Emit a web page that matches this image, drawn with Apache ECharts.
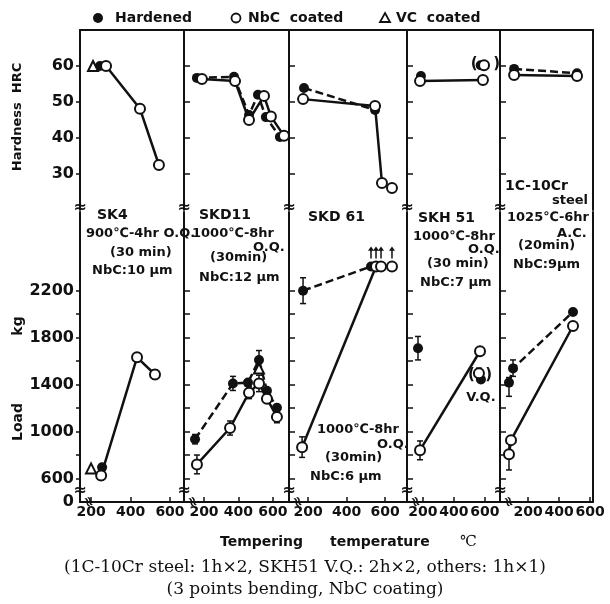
<!DOCTYPE html>
<html>
<head>
<meta charset="utf-8">
<script src="https://cdn.jsdelivr.net/npm/echarts@6/dist/echarts.min.js"></script>
<style>
  html, body { margin: 0; background: #fff; }
  #chart { width: 610px; height: 604px; }
</style>
</head>
<body>
<div id="chart"></div>
<script>
// ---- data ----
var panelNames = ['SK4', 'SKD11', 'SKD61', 'SKH51', '1C-10Cr'];
var hardnessTicks = [30, 40, 50, 60];
var loadLabels = [400, 600, 1000, 1400, 1800, 2200];   // 400 is shown as "0" (broken axis)
var loadTicks = [600, 800, 1000, 1200, 1400, 1600, 1800, 2000, 2200];
var tempTicks = [200, 400, 600];

// hardness HRC, [temp, HRC] per steel
var hardenedHRC = [
  [[245, 60]],
  [[159, 56.7], [374, 57], [461, 46.4], [513, 52], [559, 45.8], [640, 40.3]],
  [[179, 53.9], [548, 47.8]],
  [[187, 57.2]],
  [[110, 59.2], [516, 58]]
];
var nbcHRC = [
  [[276, 60], [448, 48.1], [544, 32.5]],
  [[188, 56.4], [380, 55.8], [461, 45], [548, 51.7], [588, 46], [664, 40.6]],
  [[174, 50.8], [548, 48.9], [584, 27.5], [636, 26.1]],
  [[181, 55.8], [587, 56.1]],
  [[110, 57.5], [516, 57.2]]
];
var vcHRC = [[[210, 60]], [], [], [], []];
var vqHardenedHRC = [[], [], [], [[572, 60.2]], []];
var vqNbcHRC = [[], [], [], [[594, 60.2]], []];

// bending load kg, [temp, kg]
var hardenedLoad = [
  [[256, 695]],
  [[148, 935], [368, 1409], [455, 1417], [519, 1610], [565, 1348], [623, 1202]],
  [[174, 2200], [527, 2406]],
  [[168, 1710]],
  [[77, 1417], [103, 1538], [490, 2019]]
];
var nbcLoad = [
  [[251, 626], [433, 1632], [524, 1486]],
  [[159, 720], [351, 1030], [461, 1331], [519, 1409], [565, 1280], [623, 1125]],
  [[169, 867], [553, 2406]],
  [[181, 841], [568, 1684]],
  [[77, 806], [90, 927], [490, 1899]]
];
var nbcLoadExtra = [[], [], [[579, 2406], [636, 2406]], [], []];
var vcLoad = [[[200, 686]], [[519, 1537]], [], [], []];
var vqHardenedLoad = [[], [], [], [[574, 1443]], []];
var vqNbcLoad = [[], [], [], [[561, 1497]], []];
var unbrokenLoad = [[], [], [[527, 2406], [553, 2406], [579, 2406], [636, 2406]], [], []];
// error bars [temp, low, high]
var loadErrors = [
  [[251, 590, 665], [256, 665, 725], [433, 1595, 1670], [524, 1450, 1525]],
  [[148, 895, 975], [159, 640, 800], [368, 1350, 1470], [351, 970, 1090], [461, 1280, 1380],
   [519, 1530, 1690], [519, 1340, 1480], [623, 1075, 1175]],
  [[174, 2090, 2310], [169, 780, 955]],
  [[168, 1610, 1810], [181, 760, 920], [561, 1450, 1540]],
  [[103, 1470, 1610], [77, 1300, 1460], [77, 673, 903], [90, 890, 965]]
];

// ---- layout ----
var ink = '#111';
var sans = 'DejaVu Sans';
var edges = [80, 184, 289, 407, 500, 593];
var tempRange = [[144, 671], [84, 693], [101, 714], [97, 697], [19, 619]];

var chart = echarts.init(document.getElementById('chart'));

var grid = [], xAxis = [], yAxis = [], series = [];

function axisLine() {
  return { show: true, onZero: false, lineStyle: { color: ink, width: 2 } };
}

for (var i = 0; i < 5; i++) {
  grid.push({ left: edges[i], width: edges[i + 1] - edges[i], top: 30, height: 180, outerBoundsMode: 'none' });
}
for (var i = 0; i < 5; i++) {
  grid.push({ left: edges[i], width: edges[i + 1] - edges[i], top: 212, height: 290, outerBoundsMode: 'none' });
}

for (var i = 0; i < 5; i++) {
  xAxis.push({
    type: 'value', gridIndex: i, position: 'top', min: tempRange[i][0], max: tempRange[i][1],
    axisLine: axisLine(), axisTick: { show: false }, axisLabel: { show: false }, splitLine: { show: false }
  });
}
for (var i = 0; i < 5; i++) {
  xAxis.push({
    type: 'value', gridIndex: 5 + i, position: 'bottom', min: tempRange[i][0], max: tempRange[i][1],
    axisLine: axisLine(),
    axisTick: { show: true, inside: true, length: 5, customValues: tempTicks, lineStyle: { color: ink, width: 1.5 } },
    axisLabel: { show: true, customValues: tempTicks, margin: 3, color: ink, fontFamily: sans, fontWeight: 'bold', fontSize: 14 },
    splitLine: { show: false }
  });
}
for (var i = 0; i < 5; i++) {
  yAxis.push({
    type: 'value', gridIndex: i, min: 20, max: 70,
    axisLine: axisLine(),
    axisTick: { show: true, inside: i > 0, length: i > 0 ? 6 : 4, customValues: hardnessTicks, lineStyle: { color: ink, width: 1.5 } },
    axisLabel: { show: i === 0, customValues: hardnessTicks, margin: 6, color: ink, fontFamily: sans, fontWeight: 'bold', fontSize: 16 },
    splitLine: { show: false }
  });
}
for (var i = 0; i < 5; i++) {
  yAxis.push({
    type: 'value', gridIndex: 5 + i, min: 400, max: 2870,
    axisLine: axisLine(),
    axisTick: { show: true, inside: i > 0, length: i > 0 ? 6 : 4, customValues: loadTicks, lineStyle: { color: ink, width: 1.5 } },
    axisLabel: {
      show: i === 0, customValues: loadLabels, showMinLabel: true, margin: 6, color: ink,
      fontFamily: sans, fontWeight: 'bold', fontSize: 16,
      formatter: function (v) { return v === 400 ? '0' : String(v); }
    },
    splitLine: { show: false }
  });
}
// right border of last panel
yAxis.push({ type: 'value', gridIndex: 4, position: 'right', min: 20, max: 70, axisLine: axisLine(), axisTick: { show: false }, axisLabel: { show: false }, splitLine: { show: false } });
yAxis.push({ type: 'value', gridIndex: 9, position: 'right', min: 400, max: 2870, axisLine: axisLine(), axisTick: { show: false }, axisLabel: { show: false }, splitLine: { show: false } });

var filledSym = { color: ink, opacity: 1 };
var openSym = { color: '#fff', borderColor: ink, borderWidth: 2, opacity: 1 };

function lineSeries(ax, data, dashed, open) {
  return {
    type: 'line', xAxisIndex: ax, yAxisIndex: ax, data: data, symbol: 'circle', symbolSize: 10,
    showAllSymbol: true, animation: false, silent: true, z: open ? 4 : 3,
    lineStyle: { color: ink, width: 2.5, type: dashed ? [8, 4] : 'solid' },
    itemStyle: open ? openSym : filledSym
  };
}
function dots(ax, data, sym, open, size) {
  return {
    type: 'scatter', xAxisIndex: ax, yAxisIndex: ax, data: data, symbol: sym, symbolSize: size || 10,
    animation: false, silent: true, z: open ? 5 : 4, itemStyle: open ? openSym : filledSym
  };
}
function renderError(params, api) {
  var lo = api.coord([api.value(0), api.value(1)]);
  var hi = api.coord([api.value(0), api.value(2)]);
  var st = { stroke: ink, lineWidth: 1.5 };
  return {
    type: 'group', children: [
      { type: 'line', shape: { x1: lo[0], y1: lo[1], x2: hi[0], y2: hi[1] }, style: st },
      { type: 'line', shape: { x1: lo[0] - 3, y1: lo[1], x2: lo[0] + 3, y2: lo[1] }, style: st },
      { type: 'line', shape: { x1: hi[0] - 3, y1: hi[1], x2: hi[0] + 3, y2: hi[1] }, style: st }
    ]
  };
}

for (var i = 0; i < 5; i++) {
  var b = 5 + i;
  series.push(lineSeries(i, hardenedHRC[i], true, false));
  series.push(lineSeries(i, nbcHRC[i], false, true));
  series.push(dots(i, vcHRC[i], 'triangle', true, 10));
  series.push(dots(i, vqHardenedHRC[i], 'circle', false));
  series.push(dots(i, vqNbcHRC[i], 'circle', true));

  series.push({
    type: 'custom', xAxisIndex: b, yAxisIndex: b, data: loadErrors[i], renderItem: renderError,
    encode: { x: 0, y: [1, 2] }, animation: false, silent: true, z: 2
  });
  series.push(lineSeries(b, hardenedLoad[i], true, false));
  series.push(lineSeries(b, nbcLoad[i], false, true));
  series.push(dots(b, nbcLoadExtra[i], 'circle', true));
  series.push(dots(b, vcLoad[i], 'triangle', true, 10));
  series.push(dots(b, vqHardenedLoad[i], 'circle', false));
  series.push(dots(b, vqNbcLoad[i], 'circle', true));
  series.push({
    type: 'scatter', xAxisIndex: b, yAxisIndex: b, data: unbrokenLoad[i], animation: false, silent: true,
    symbol: 'path://M4,0 L8,5 L5,5 L5,14 L3,14 L3,5 L0,5 Z', symbolSize: [6, 12], symbolOffset: [0, -14],
    itemStyle: { color: ink, opacity: 1 }
  });
}

// parentheses around the SKH51 V.Q. points
function noteSeries(ax, point, text, size) {
  return {
    type: 'scatter', xAxisIndex: ax, yAxisIndex: ax, data: [point], silent: true, animation: false, z: 6,
    symbol: 'circle', symbolSize: 1, itemStyle: { color: 'rgba(0,0,0,0)', opacity: 1 },
    label: { show: true, position: 'inside', formatter: text, color: ink, fontFamily: sans, fontWeight: 'bold', fontSize: size }
  };
}
series.push(noteSeries(3, [603, 60.6], '(   )', 15));
series.push(noteSeries(8, [568, 1480], '(  )', 15));
series.push(noteSeries(8, [574, 1287], 'V.Q.', 13));

// ---- texts ----
var notes = [
  ['SK4', 97, 215], ['900\u2103-4hr O.Q.', 86, 234], ['(30 min)', 110, 253], ['NbC:10 \u00b5m', 92, 271],
  ['SKD11', 199, 215], ['1000\u2103-8hr', 192, 234], ['O.Q.', 253, 248], ['(30min)', 210, 258], ['NbC:12 \u00b5m', 199, 278],
  ['SKD 61', 308, 217], ['1000\u2103-8hr', 317, 430], ['O.Q.', 377, 445], ['(30min)', 325, 458], ['NbC:6 \u00b5m', 310, 477],
  ['SKH 51', 418, 218], ['1000\u2103-8hr', 413, 237], ['O.Q.', 468, 250], ['(30 min)', 427, 264], ['NbC:7 \u00b5m', 420, 283],
  ['1C-10Cr', 505, 186], ['steel', 552, 201], ['1025\u2103-6hr', 507, 218], ['A.C.', 557, 234], ['(20min)', 518, 246], ['NbC:9\u00b5m', 513, 265]
];
var graphic = [];
notes.forEach(function (n) {
  var big = /^(SK|1C)/.test(n[0]);
  graphic.push({
    type: 'text', x: n[1], y: n[2], z: 10, silent: true,
    style: { text: n[0], fill: ink, font: 'bold ' + (big ? 14 : 13) + 'px "' + sans + '"', textVerticalAlign: 'middle' }
  });
});

function txt(s, x, y, size, rotated) {
  return {
    type: 'text', x: x, y: y, silent: true, z: 10, rotation: rotated ? Math.PI / 2 : 0,
    style: { text: s, fill: ink, font: 'bold ' + size + 'px "' + sans + '"', textAlign: rotated ? 'center' : 'left', textVerticalAlign: 'middle' }
  };
}

// legend
graphic.push({ type: 'circle', shape: { cx: 98, cy: 18, r: 5 }, style: { fill: ink }, silent: true });
graphic.push(txt('Hardened', 115, 18, 14));
graphic.push({ type: 'circle', shape: { cx: 236, cy: 18, r: 4.5 }, style: { fill: '#fff', stroke: ink, lineWidth: 1.8 }, silent: true });
graphic.push(txt('NbC  coated', 248, 18, 14));
graphic.push({ type: 'polygon', shape: { points: [[385, 13], [390, 22], [380, 22]] }, style: { fill: '#fff', stroke: ink, lineWidth: 1.8 }, silent: true });
graphic.push(txt('VC  coated', 396, 18, 14));

// axis titles
graphic.push(txt('Hardness  HRC', 18, 117, 13, true));
graphic.push(txt('kg', 18, 326, 14, true));
graphic.push(txt('Load', 18, 422, 14, true));
graphic.push(txt('Tempering', 220, 542, 14));
graphic.push(txt('temperature', 330, 542, 14));
graphic.push({ type: 'text', x: 460, y: 542, silent: true, style: { text: '\u2103', fill: ink, font: '15px "DejaVu Serif"', textVerticalAlign: 'middle' } });

// caption
graphic.push({ type: 'text', x: 305, y: 568, silent: true, style: { text: '(1C-10Cr steel: 1h\u00d72, SKH51 V.Q.: 2h\u00d72, others: 1h\u00d71)', fill: ink, font: '17px "DejaVu Serif"', textAlign: 'center', textVerticalAlign: 'middle' } });
graphic.push({ type: 'text', x: 305, y: 590, silent: true, style: { text: '(3 points bending, NbC coating)', fill: ink, font: '17px "DejaVu Serif"', textAlign: 'center', textVerticalAlign: 'middle' } });

// axis break marks
for (var i = 0; i < 5; i++) {
  graphic.push({ type: 'text', x: edges[i], y: 208, silent: true, z: 11, style: { text: '\u2248', fill: ink, font: 'bold 16px "' + sans + '"', textAlign: 'center', textVerticalAlign: 'middle' } });
  graphic.push({ type: 'text', x: edges[i], y: 491, silent: true, z: 11, style: { text: '\u2248', fill: ink, font: 'bold 16px "' + sans + '"', textAlign: 'center', textVerticalAlign: 'middle' } });
  graphic.push({ type: 'text', x: edges[i] + 8, y: 502, rotation: -Math.PI / 2.6, silent: true, z: 11, style: { text: '\u2248', fill: ink, font: 'bold 14px "' + sans + '"', textAlign: 'center', textVerticalAlign: 'middle' } });
}

chart.setOption({
  backgroundColor: '#fff',
  animation: false,
  grid: grid,
  xAxis: xAxis,
  yAxis: yAxis,
  series: series,
  graphic: graphic
});
</script>
</body>
</html>
